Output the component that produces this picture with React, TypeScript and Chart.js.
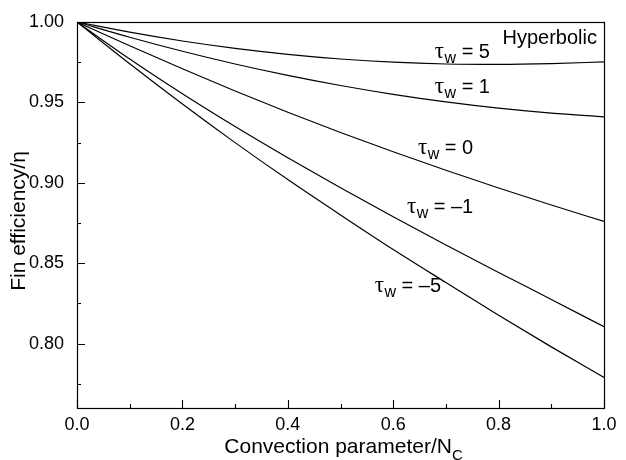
import { useEffect, useRef } from 'react';
import { Chart, registerables } from 'chart.js';

Chart.register(...registerables);

// Convection parameter N_C (x) and fin efficiency η for each wall parameter τ_w
const xValues = [0, 0.1, 0.2, 0.3, 0.4, 0.5, 0.6, 0.7, 0.8, 0.9, 1.0];
const etaTauPos5 = [1.0, 0.9937, 0.9882, 0.9836, 0.9799, 0.977, 0.975, 0.9739, 0.9736, 0.9741, 0.9752];
const etaTauPos1 = [1.0, 0.9905, 0.9818, 0.9739, 0.9668, 0.9605, 0.955, 0.9503, 0.9464, 0.9433, 0.941];
const etaTau0 = [1.0, 0.9852, 0.9709, 0.9571, 0.9439, 0.9313, 0.9193, 0.9078, 0.8968, 0.8862, 0.876];
const etaTauNeg1 = [1.0, 0.977, 0.9554, 0.935, 0.9156, 0.8969, 0.8789, 0.8614, 0.8443, 0.8275, 0.8105];
const etaTauNeg5 = [1.0, 0.974, 0.949, 0.925, 0.902, 0.88, 0.8585, 0.838, 0.8177, 0.798, 0.779];

const seriesList = [etaTauPos5, etaTauPos1, etaTau0, etaTauNeg1, etaTauNeg5];
const tauValues = ['5', '1', '0', '\u20131', '\u20135'];

// axis ticks
const xTickValues = [0, 0.2, 0.4, 0.6, 0.8, 1.0];
const xMinorTickValues = [0.1, 0.3, 0.5, 0.7, 0.9];
const yTickValues = [0.8, 0.85, 0.9, 0.95, 1.0];
const yMinorTickValues = [0.775, 0.825, 0.875, 0.925, 0.975];

// curve label anchors (data coordinates: start x, baseline y)
const labelAnchorX = [0.679, 0.679, 0.647, 0.626, 0.565];
const labelAnchorY = [0.9776, 0.9558, 0.9179, 0.8812, 0.8321];
const cornerLabel = 'Hyperbolic';
const cornerAnchor = [0.9867, 0.9861];

const xTitle = 'Convection parameter/N';
const xTitleSub = 'C';
const yTitle = 'Fin efficiency/\u03b7';

const SANS = '"Liberation Sans", Arial, Helvetica, sans-serif';
const SERIF = '"Liberation Serif", "Times New Roman", serif';

const decorPlugin = {
  id: 'decor',
  afterDraw(chart: any) {
    const { ctx, chartArea } = chart;
    const { left, right, top, bottom } = chartArea;
    const xs = chart.scales.x;
    const ys = chart.scales.y;
    ctx.save();
    ctx.strokeStyle = '#000';
    ctx.lineWidth = 1.2;
    ctx.strokeRect(left + 0.5, top + 0.5, right - left, bottom - top);

    ctx.lineWidth = 1.1;
    ctx.beginPath();
    xTickValues.forEach((v) => {
      const px = Math.round(xs.getPixelForValue(v)) + 0.5;
      ctx.moveTo(px, bottom);
      ctx.lineTo(px, bottom - 8);
    });
    xMinorTickValues.forEach((v) => {
      const px = Math.round(xs.getPixelForValue(v)) + 0.5;
      ctx.moveTo(px, bottom);
      ctx.lineTo(px, bottom - 4);
    });
    yTickValues.forEach((v) => {
      const py = Math.round(ys.getPixelForValue(v)) + 0.5;
      ctx.moveTo(left, py);
      ctx.lineTo(left + 8, py);
    });
    yMinorTickValues.forEach((v) => {
      const py = Math.round(ys.getPixelForValue(v)) + 0.5;
      ctx.moveTo(left, py);
      ctx.lineTo(left + 4, py);
    });
    ctx.stroke();

    ctx.fillStyle = '#000';
    ctx.textBaseline = 'alphabetic';

    // curve labels τ_w = value
    tauValues.forEach((val, i) => {
      const x = xs.getPixelForValue(labelAnchorX[i]);
      const y = ys.getPixelForValue(labelAnchorY[i]);
      ctx.textAlign = 'left';
      ctx.font = `23px ${SERIF}`;
      ctx.fillText('\u03c4', x, y);
      const tw = ctx.measureText('\u03c4').width;
      ctx.font = `16px ${SANS}`;
      ctx.fillText('w', x + tw + 0.5, y + 5);
      const ww = ctx.measureText('w').width;
      ctx.font = `20px ${SANS}`;
      ctx.fillText('= ' + val, x + tw + ww + 6, y);
    });

    // corner label
    ctx.font = `20px ${SANS}`;
    ctx.textAlign = 'right';
    ctx.fillText(cornerLabel, xs.getPixelForValue(cornerAnchor[0]), ys.getPixelForValue(cornerAnchor[1]));

    // x title with subscript
    ctx.font = `21px ${SANS}`;
    const mainW = ctx.measureText(xTitle).width;
    ctx.font = `15px ${SANS}`;
    const subW = ctx.measureText(xTitleSub).width;
    const cx = (left + right) / 2 + 3;
    const startX = cx - (mainW + subW) / 2;
    ctx.textAlign = 'left';
    ctx.font = `21px ${SANS}`;
    ctx.fillText(xTitle, startX, bottom + 45);
    ctx.font = `15px ${SANS}`;
    ctx.fillText(xTitleSub, startX + mainW, bottom + 52);

    // y title rotated
    ctx.save();
    ctx.translate(left - 52, (top + bottom) / 2 + 6);
    ctx.rotate(-Math.PI / 2);
    ctx.textAlign = 'center';
    ctx.font = `21px ${SANS}`;
    ctx.fillText(yTitle, 0, 0);
    ctx.restore();

    ctx.restore();
  },
};

export default function App() {
  const canvasRef = useRef<HTMLCanvasElement | null>(null);

  useEffect(() => {
    document.body.style.margin = '0';
    const canvas = canvasRef.current;
    if (!canvas) return;
    const datasets = seriesList.map((s, i) => ({
      label: '\u03c4w = ' + tauValues[i],
      data: xValues.map((x, j) => ({ x, y: s[j] })),
      borderColor: '#000',
      borderWidth: 1.2,
      pointRadius: 0,
      fill: false,
      cubicInterpolationMode: 'monotone' as const,
    }));
    const chart = new Chart(canvas, {
      type: 'line',
      data: { datasets },
      options: {
        animation: false,
        responsive: false,
        devicePixelRatio: 1,
        layout: { padding: { top: 22, right: 22, left: 0, bottom: 0 } },
        plugins: { legend: { display: false }, tooltip: { enabled: false } },
        scales: {
          x: {
            type: 'linear',
            min: 0,
            max: 1,
            grid: { display: false },
            border: { display: false },
            afterBuildTicks: (scale: any) => {
              scale.ticks = xTickValues.map((v) => ({ value: v }));
            },
            afterFit: (scale: any) => {
              scale.height = 52;
            },
            ticks: {
              color: '#000',
              padding: -2,
              maxRotation: 0,
              autoSkip: false,
              font: { family: SANS, size: 18 },
              callback: (v: any) => Number(v).toFixed(1),
            },
          },
          y: {
            type: 'linear',
            min: 0.76,
            max: 1.0,
            grid: { display: false },
            border: { display: false },
            afterBuildTicks: (scale: any) => {
              scale.ticks = yTickValues.map((v) => ({ value: v }));
            },
            afterFit: (scale: any) => {
              scale.width = 77;
            },
            ticks: {
              color: '#000',
              padding: 5,
              autoSkip: false,
              font: { family: SANS, size: 18 },
              callback: (v: any) => Number(v).toFixed(2),
            },
          },
        },
      },
      plugins: [decorPlugin],
    });
    return () => chart.destroy();
  }, []);

  return (
    <div style={{ width: 626, height: 460, background: '#fff' }}>
      <canvas ref={canvasRef} width={626} height={460} style={{ display: 'block' }} />
    </div>
  );
}
